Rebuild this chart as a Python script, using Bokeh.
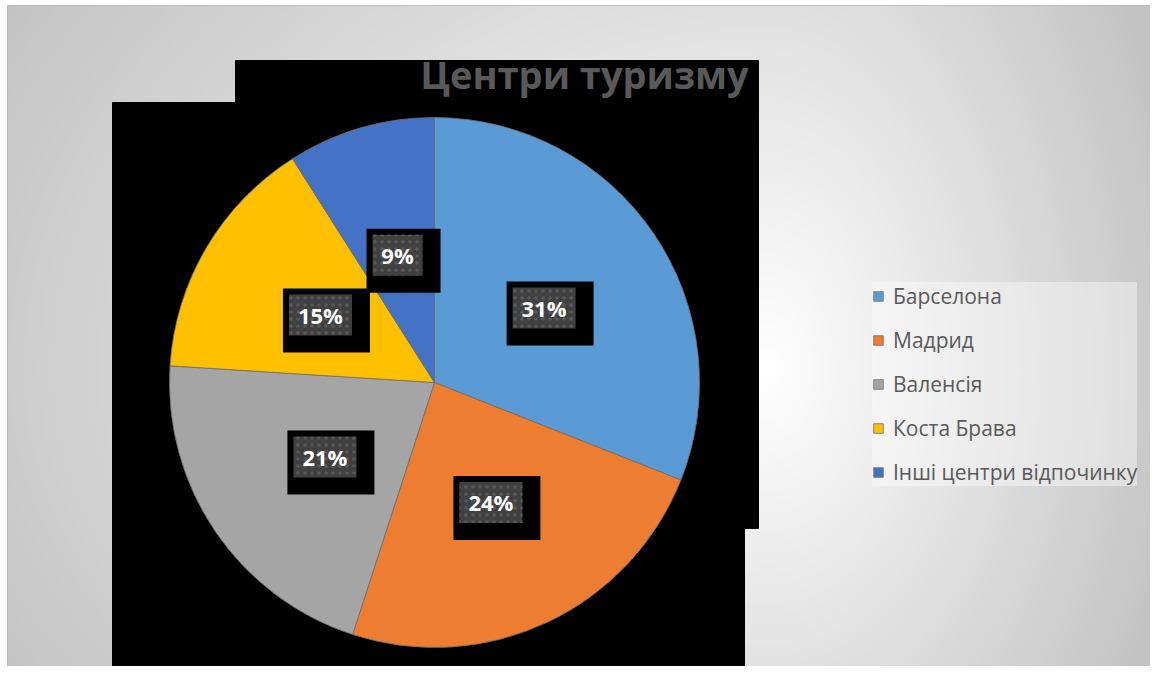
import numpy as np
from bokeh.plotting import figure
from bokeh.models import Range1d, ColumnDataSource
from bokeh.core.properties import value
from bokeh.embed import file_html
from bokeh.resources import INLINE

# ---- data ----
categories = ["Барселона", "Мадрид", "Валенсія", "Коста Брава", "Інші центри відпочинку"]
shares = [31, 24, 21, 15, 9]
title_text = "Центри туризму"

palette = ["#5B9BD5", "#ED7D31", "#A5A5A5", "#FFC000", "#4472C4"]

PW, PH = 1150, 666          # figure size
L, T = 7, 5                 # chart area offset
W, H = PW - L, PH - T       # frame size


def px(xp):
    return xp - L


def py(yp):
    return PH - yp


p = figure(width=PW, height=PH, x_range=Range1d(0, W), y_range=Range1d(0, H),
           output_backend="svg", toolbar_location=None,
           min_border_left=L, min_border_top=T, min_border_right=0, min_border_bottom=0,
           x_axis_location=None, y_axis_location=None)
p.grid.visible = False
p.outline_line_color = "#b4b4b4"
p.background_fill_color = "#dddddd"
p.border_fill_color = "white"

# ---- background gradient ----
nx, ny = 572, 331
xs = (np.arange(nx) + 0.5) * W / nx + L
ys = PH - (np.arange(ny) + 0.5) * H / ny
XP, YP = np.meshgrid(xs, ys)
dx = XP - 770.0
dy = YP - 370.0
ax = np.where(dx < 0, 900.0, 420.0)
ay = np.where(dy < 0, 700.0, 600.0)
d = np.clip(np.sqrt((dx / ax) ** 2 + (dy / ay) ** 2), 0, 1)
b = (255 - 59 * d).astype(np.uint8)
rgba = np.zeros((ny, nx, 4), dtype=np.uint8)
rgba[..., 0] = b
rgba[..., 1] = b
rgba[..., 2] = b
rgba[..., 3] = 255
img = rgba.view(dtype=np.uint32).reshape((ny, nx))
p.image_rgba(image=[img], x=0, y=0, dw=W, dh=H)

# ---- black backdrop ----
bx = [235, 758, 758, 744, 744, 112, 112, 235]
by = [60, 60, 528, 528, 680, 680, 102, 102]
p.patch(x=[px(v) for v in bx], y=[py(v) for v in by], color="black")

# ---- pie ----
cx, cy, R = px(434), py(382), 265
vals = np.array(shares, dtype=float)
frac = np.concatenate([[0], np.cumsum(vals)]) / vals.sum()
start = np.pi / 2 - frac[:-1] * 2 * np.pi
end = np.pi / 2 - frac[1:] * 2 * np.pi
src = ColumnDataSource(dict(cat=categories, start=start, end=end, color=palette))
p.wedge(x=cx, y=cy, radius=R, start_angle="start", end_angle="end",
        direction="clock", fill_color="color", line_color="#707070",
        line_width=0.8, source=src, legend_field="cat")

# ---- data labels ----
mid = (frac[:-1] + frac[1:]) / 2 * 2 * np.pi
lx = cx + 0.5 * R * np.sin(mid)
ly = cy + 0.5 * R * np.cos(mid)
labels = [f"{int(round(v / vals.sum() * 100))}%" for v in vals]
bw = np.array([63 if len(t) > 2 else 50 for t in labels], dtype=float)
lsrc = ColumnDataSource(dict(x=lx, y=ly, bx=lx + 6, by=ly - 5.5, bw=bw + 24,
                             w=bw, t=labels))
p.rect(x="bx", y="by", width="bw", height=64, source=lsrc,
       fill_color="black", line_color=None)
p.rect(x="x", y="y", width="w", height=41, source=lsrc,
       fill_color="#404040", line_color=None,
       hatch_pattern="dot", hatch_color="#595959", hatch_scale=7, hatch_weight=2)
p.text(x="x", y="y", text="t", source=lsrc, text_align="center",
       text_baseline="middle", text_color="white",
       text_font=value("Open Sans"), text_font_style="bold",
       text_font_size="22px")

# ---- title ----
p.text(x=[px(584)], y=[py(73)], text=[title_text], text_align="center",
       text_baseline="alphabetic", text_color="#595959",
       text_font=value("Open Sans"), text_font_style="bold",
       text_font_size="38px")

# ---- legend ----
lg = p.legend[0]
lg.location = (872 - L, PH - 486)
lg.label_text_font = "Open Sans"
lg.label_text_font_size = "21px"
lg.label_text_color = "#595959"
lg.glyph_width = 12
lg.glyph_height = 12
lg.label_height = 20
lg.spacing = 16
lg.padding = 20
lg.label_standoff = 9
lg.background_fill_color = "white"
lg.background_fill_alpha = 0.4
lg.border_line_color = None

open("out.html", "w").write(file_html(p, INLINE))
